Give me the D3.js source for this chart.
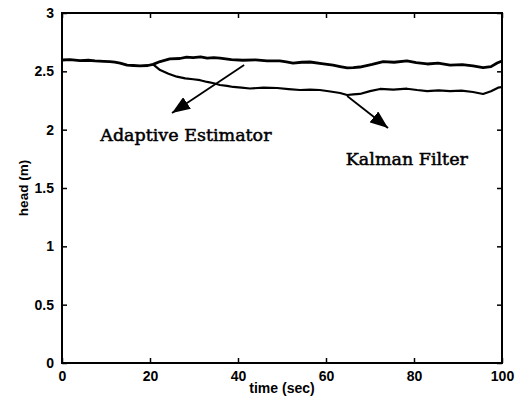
<!DOCTYPE html>
<html><head><meta charset="utf-8">
<script src="https://cdn.jsdelivr.net/npm/d3@7"></script>
<style>body{margin:0;background:#fff}svg{display:block}</style>
</head><body>
<svg id="c" width="524" height="411"></svg>
<script>
// shared portion (both estimators identical before ~21 s)
const sharedTime = [0, 1.8, 4.1, 6, 7.5, 9.5, 10.9, 12, 13.2, 14.8, 16.2, 17.7, 19.5, 20.7];
const sharedHead = [2.597, 2.601, 2.591, 2.595, 2.589, 2.586, 2.583, 2.578, 2.571, 2.554, 2.55, 2.546, 2.55, 2.56];

const adaptiveTime = [20.7, 22.3, 24.5, 26.8, 28.3, 29.8, 31.5, 33, 34.5, 35.9, 38.5, 41.1, 44, 46.6, 49.5, 51, 52.5, 54.5, 56.4, 59, 61.6, 63.2, 64.8, 66.2, 67.7, 70.5, 73, 75.5, 78.4, 80.5, 83, 85.5, 88.2, 91, 93.4, 95.7, 97.5, 98.9, 100];
const adaptiveHead = [2.56, 2.584, 2.606, 2.61, 2.621, 2.617, 2.624, 2.614, 2.618, 2.614, 2.6, 2.595, 2.598, 2.589, 2.589, 2.581, 2.571, 2.578, 2.58, 2.566, 2.554, 2.541, 2.529, 2.532, 2.537, 2.56, 2.583, 2.578, 2.589, 2.575, 2.563, 2.57, 2.554, 2.558, 2.546, 2.531, 2.54, 2.571, 2.589];

const kalmanTime = [20.7, 22.3, 24.2, 26.1, 28, 29.8, 31.4, 33, 34.5, 35.9, 37.5, 38.9, 40.8, 42.7, 45.8, 48.9, 51.5, 54.1, 56.4, 58.6, 61, 63.2, 64.8, 66.2, 67.7, 70, 72.3, 75.3, 78.4, 80.7, 83, 85.6, 88.2, 90.8, 93.4, 95.7, 97.5, 99.1, 100];
const kalmanHead = [2.56, 2.511, 2.48, 2.454, 2.44, 2.432, 2.424, 2.409, 2.398, 2.383, 2.376, 2.366, 2.36, 2.353, 2.36, 2.357, 2.348, 2.34, 2.344, 2.34, 2.327, 2.314, 2.297, 2.302, 2.306, 2.33, 2.349, 2.343, 2.351, 2.34, 2.331, 2.337, 2.331, 2.334, 2.323, 2.306, 2.33, 2.36, 2.366];

const xTicks = [0, 20, 40, 60, 80, 100];
const yTicks = [0, 0.5, 1, 1.5, 2, 2.5, 3];
const xLabel = "time (sec)";
const yLabel = "head (m)";

// annotations in data units: [label, textT, textV, arrowFromT, arrowFromV, arrowToT, arrowToV]
const annotations = [
  ["Adaptive Estimator", 8.7, 1.9, 41.4, 2.554, 25, 2.143],
  ["Kalman Filter", 64.5, 1.7, 64.8, 2.289, 74.1, 2.014]
];

const svg = d3.select("#c");
const L = 62, R = 502, T = 13, B = 363;
const x = d3.scaleLinear().domain([0, 100]).range([L, R]);
const y = d3.scaleLinear().domain([0, 3]).range([B, T]);

const tickFont = "'Liberation Sans', Arial, sans-serif";
const tl = 5;

// frame
svg.append("rect").attr("x", L).attr("y", T).attr("width", R - L).attr("height", B - T)
  .attr("fill", "none").attr("stroke", "#000").attr("stroke-width", 2);

// axes with inward ticks
const axB = d3.axisBottom(x).tickValues(xTicks).tickSizeInner(-tl).tickSizeOuter(0).tickPadding(8).tickFormat(d3.format("d"));
const axT = d3.axisTop(x).tickValues(xTicks).tickSizeInner(-tl).tickSizeOuter(0).tickFormat("");
const axL = d3.axisLeft(y).tickValues(yTicks).tickSizeInner(-tl).tickSizeOuter(0).tickPadding(8).tickFormat(d => d3.format("")(d));
const axR = d3.axisRight(y).tickValues(yTicks).tickSizeInner(-tl).tickSizeOuter(0).tickFormat("");

function style(g) {
  g.select(".domain").remove();
  g.selectAll("line").attr("stroke", "#000").attr("stroke-width", 1.5);
  g.selectAll("text").attr("font-family", tickFont).attr("font-size", 14).attr("font-weight", "bold").attr("fill", "#000");
}
svg.append("g").attr("transform", `translate(0,${B})`).call(axB).call(style);
svg.append("g").attr("transform", `translate(0,${T})`).call(axT).call(style);
svg.append("g").attr("transform", `translate(${L},0)`).call(axL).call(style);
svg.append("g").attr("transform", `translate(${R},0)`).call(axR).call(style);

// axis labels
svg.append("text").attr("x", (L + R) / 2).attr("y", 393).attr("text-anchor", "middle")
  .attr("font-family", tickFont).attr("font-size", 14).attr("font-weight", "bold").text(xLabel);
svg.append("text").attr("transform", `translate(28,${(T + B) / 2}) rotate(-90)`).attr("text-anchor", "middle")
  .attr("font-family", tickFont).attr("font-size", 13.5).attr("font-weight", "bold").text(yLabel);

// series
const line = d3.line().x(d => x(d[0])).y(d => y(d[1]));
const shared = sharedTime.map((t, i) => [t, sharedHead[i]]);
const adaptive = adaptiveTime.map((t, i) => [t, adaptiveHead[i]]);
const kalman = kalmanTime.map((t, i) => [t, kalmanHead[i]]);
svg.append("path").datum(kalman).attr("d", line).attr("fill", "none").attr("stroke", "#000").attr("stroke-width", 2.2).attr("stroke-linejoin", "round");
svg.append("path").datum(adaptive).attr("d", line).attr("fill", "none").attr("stroke", "#000").attr("stroke-width", 2.8).attr("stroke-linejoin", "round");
svg.append("path").datum(shared).attr("d", line).attr("fill", "none").attr("stroke", "#000").attr("stroke-width", 2.8).attr("stroke-linejoin", "round");

// annotations
svg.append("defs").append("marker").attr("id", "ah").attr("viewBox", "0 0 18 14")
  .attr("refX", 18).attr("refY", 7).attr("markerWidth", 18).attr("markerHeight", 14)
  .attr("markerUnits", "userSpaceOnUse").attr("orient", "auto")
  .append("path").attr("d", "M0,0 L18,7 L0,14 Z").attr("fill", "#000");

annotations.forEach(a => {
  svg.append("line").attr("x1", x(a[3])).attr("y1", y(a[4])).attr("x2", x(a[5])).attr("y2", y(a[6]))
    .attr("stroke", "#000").attr("stroke-width", 1.8).attr("marker-end", "url(#ah)");
  svg.append("text").attr("x", x(a[1])).attr("y", y(a[2]))
    .attr("font-family", "'DejaVu Serif', 'Liberation Serif', serif").attr("font-size", 17.5)
    .attr("stroke", "#000").attr("stroke-width", 0.5)
    .attr("fill", "#000").text(a[0]);
});
</script>
</body></html>
